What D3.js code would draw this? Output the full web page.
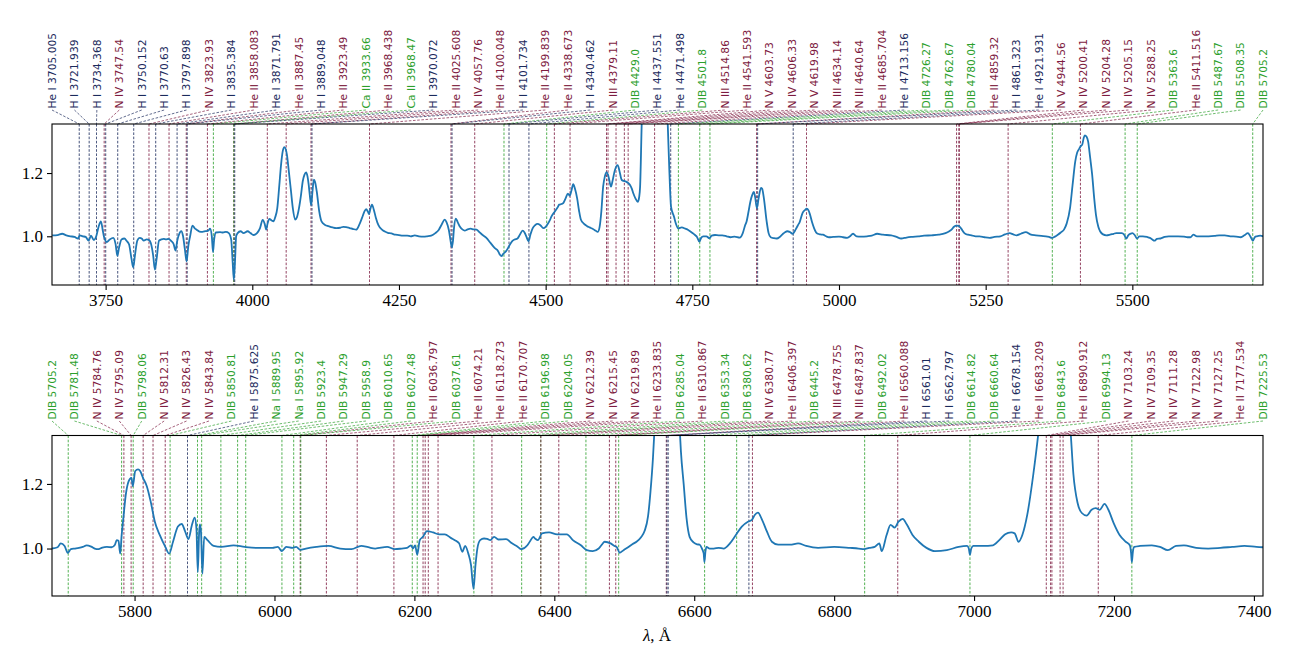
<!DOCTYPE html>
<html><head><meta charset="utf-8">
<script src="https://cdn.jsdelivr.net/npm/d3@7"></script>
<style>body{margin:0;background:#fff}svg{display:block}</style>
</head><body><svg id="c" width="1294" height="665"></svg>
<script>
// ---------- DATA ----------
const topIons = ["He I","H I","H I","N IV","H I","H I","H I","N IV","H I","He II","He I","He II","H I","He II","Ca II","He II","Ca II","H I","He II","N IV","He II","H I","He II","He II","H I","N III","DIB","He I","He I","DIB","N III","He II","N V","N IV","N V","N III","N III","He II","He I","DIB","DIB","DIB","He II","H I","He I","N V","N IV","N IV","N IV","N IV","DIB","He II","DIB","DIB","DIB"];
const topWaves = ["3705.005","3721.939","3734.368","3747.54","3750.152","3770.63","3797.898","3823.93","3835.384","3858.083","3871.791","3887.45","3889.048","3923.49","3933.66","3968.438","3968.47","3970.072","4025.608","4057.76","4100.048","4101.734","4199.839","4338.673","4340.462","4379.11","4429.0","4437.551","4471.498","4501.8","4514.86","4541.593","4603.73","4606.33","4619.98","4634.14","4640.64","4685.704","4713.156","4726.27","4762.67","4780.04","4859.32","4861.323","4921.931","4944.56","5200.41","5204.28","5205.15","5288.25","5363.6","5411.516","5487.67","5508.35","5705.2"];
const bottomIons = ["DIB","DIB","N IV","N IV","DIB","N IV","N IV","N IV","DIB","He I","Na I","Na I","DIB","DIB","DIB","DIB","DIB","He II","DIB","He II","He II","He II","DIB","DIB","N IV","N IV","N IV","He II","DIB","He II","DIB","DIB","N IV","He II","DIB","N III","N III","DIB","He II","H I","H I","DIB","DIB","He I","He II","DIB","He II","DIB","N IV","N IV","N IV","N IV","N IV","He II","DIB"];
const bottomWaves = ["5705.2","5781.48","5784.76","5795.09","5798.06","5812.31","5826.43","5843.84","5850.81","5875.625","5889.95","5895.92","5923.4","5947.29","5958.9","6010.65","6027.48","6036.797","6037.61","6074.21","6118.273","6170.707","6196.98","6204.05","6212.39","6215.45","6219.89","6233.835","6285.04","6310.867","6353.34","6380.62","6380.77","6406.397","6445.2","6478.755","6487.837","6492.02","6560.088","6561.01","6562.797","6614.82","6660.64","6678.154","6683.209","6843.6","6890.912","6994.13","7103.24","7109.35","7111.28","7122.98","7127.25","7177.534","7225.53"];

const topTicks = [3750,4000,4250,4500,4750,5000,5250,5500];
const bottomTicks = [5800,6000,6200,6400,6600,6800,7000,7200,7400];
const yTicks = [1.0,1.2];

const topSpectrum = [[3659,1.003],[3668,1.004],[3676,1.008],[3683,1.003],[3690,1.0],[3697,0.998],[3703,0.993],[3706,1.003],[3711,1.0],[3716,0.998],[3721,0.986],[3725,1.002],[3730,0.988],[3734,1.0],[3738,1.03],[3742,1.047],[3745,1.02],[3747,1.0],[3752,0.982],[3757,0.99],[3763,0.995],[3767,0.975],[3770,0.938],[3773,0.965],[3777,0.99],[3782,0.993],[3786,0.985],[3790,0.974],[3794,0.93],[3797,0.902],[3800,0.94],[3804,0.986],[3808,0.995],[3812,0.992],[3815,0.986],[3820,0.99],[3824,0.988],[3827,0.979],[3831,0.94],[3834,0.895],[3837,0.93],[3841,0.986],[3845,0.99],[3849,0.992],[3853,0.99],[3857,0.992],[3862,0.985],[3866,0.975],[3869,0.955],[3872,0.985],[3876,1.01],[3879,1.016],[3882,1.0],[3885,0.96],[3888,0.921],[3891,0.97],[3894,1.0],[3898,1.034],[3902,1.025],[3905,1.021],[3910,1.015],[3915,1.014],[3920,1.016],[3925,1.018],[3928,1.024],[3931,1.0],[3933,0.95],[3935,0.99],[3938,1.012],[3945,1.013],[3950,1.012],[3955,1.014],[3960,1.01],[3964,0.99],[3966.5,0.92],[3968.5,0.863],[3970.5,0.92],[3972.5,1.0],[3975,1.01],[3980,1.016],[3985,1.01],[3992,1.016],[3997,1.01],[4002,1.004],[4008,1.01],[4013,1.025],[4017.7,1.052],[4021,1.04],[4023.7,1.021],[4026,1.04],[4029,1.055],[4033,1.05],[4036,1.047],[4039,1.06],[4042.6,1.089],[4046,1.16],[4049,1.226],[4052,1.27],[4054.7,1.282],[4057,1.275],[4059,1.258],[4062,1.21],[4066,1.142],[4069,1.09],[4073,1.053],[4076,1.06],[4079.6,1.089],[4083,1.13],[4086,1.174],[4089,1.195],[4091.7,1.202],[4094,1.19],[4096,1.165],[4098,1.13],[4100.4,1.098],[4102.5,1.14],[4105,1.179],[4107,1.172],[4110,1.14],[4114,1.08],[4118,1.047],[4124,1.036],[4130,1.032],[4137,1.028],[4143,1.026],[4150,1.027],[4155,1.03],[4160,1.029],[4166,1.026],[4172,1.023],[4177,1.021],[4182,1.035],[4187,1.058],[4191,1.078],[4194,1.086],[4197,1.078],[4199,1.07],[4201,1.085],[4204,1.10],[4207,1.085],[4210.7,1.058],[4215,1.035],[4221,1.021],[4226,1.015],[4231,1.011],[4237,1.009],[4244,1.005],[4250,1.004],[4256,1.002],[4264,1.002],[4270,1.0],[4277,1.003],[4284,1.0],[4292,0.999],[4298,1.0],[4305,1.002],[4312,1.01],[4318,1.021],[4323,1.038],[4328,1.053],[4331,1.045],[4335,1.02],[4338,0.985],[4340,0.965],[4342,0.985],[4344,1.03],[4347,1.056],[4350,1.045],[4354,1.03],[4358,1.022],[4362,1.018],[4367,1.022],[4372,1.024],[4377,1.022],[4382,1.021],[4387,1.013],[4392,1.005],[4399,0.995],[4406,0.979],[4413,0.963],[4419,0.953],[4422,0.942],[4424.6,0.937],[4428,0.945],[4432.6,0.953],[4438,0.97],[4442.7,0.984],[4447,0.99],[4452,0.993],[4456,1.005],[4460.8,1.018],[4464,1.012],[4467,1.0],[4470.8,0.984],[4474,1.005],[4478,1.026],[4482,1.035],[4486,1.039],[4491,1.035],[4496,1.026],[4500,1.03],[4503,1.037],[4507,1.05],[4510,1.063],[4516,1.079],[4520,1.09],[4523,1.10],[4527,1.102],[4530,1.105],[4534,1.12],[4538,1.135],[4541,1.128],[4544,1.145],[4547,1.165],[4550,1.15],[4553.7,1.12],[4557,1.08],[4560,1.053],[4565,1.04],[4570.6,1.032],[4575,1.028],[4580.6,1.023],[4585,1.018],[4588.7,1.014],[4592,1.03],[4595,1.08],[4598,1.157],[4601,1.19],[4604,1.203],[4607,1.19],[4611.4,1.157],[4614,1.175],[4618,1.209],[4622.8,1.225],[4626,1.205],[4629.7,1.178],[4633,1.175],[4637,1.173],[4641,1.168],[4643.8,1.162],[4647,1.15],[4649.4,1.136],[4653,1.12],[4657,1.109],[4659.5,1.125],[4661,1.157],[4663.8,1.36],[4668,1.55],[4675,1.8],[4686,1.92],[4696,1.8],[4703,1.55],[4708,1.36],[4710.8,1.21],[4713.7,1.094],[4718.8,1.062],[4722,1.04],[4726,1.025],[4732,1.028],[4738,1.024],[4743,1.02],[4749,1.012],[4754.6,1.004],[4758,0.998],[4762,0.983],[4765,0.995],[4768.7,1.0],[4774,1.0],[4779,0.994],[4783,1.002],[4788.7,1.004],[4795,1.003],[4801,1.003],[4808.6,1.0],[4815,0.997],[4822,0.999],[4831,0.996],[4836,1.01],[4840,1.035],[4842.5,1.047],[4846,1.08],[4849,1.11],[4852,1.13],[4854.8,1.14],[4857,1.125],[4860,1.089],[4863,1.12],[4867,1.153],[4869,1.15],[4872,1.12],[4876.7,1.047],[4880,1.01],[4883.6,0.997],[4889,0.994],[4894,0.993],[4899,0.998],[4904,1.007],[4908,1.013],[4912,1.016],[4916,1.014],[4921,1.008],[4926,1.021],[4930,1.035],[4933,1.045],[4938,1.074],[4942,1.083],[4945,1.087],[4948,1.082],[4950.7,1.068],[4954,1.045],[4957.5,1.026],[4961,1.012],[4964,1.008],[4968,1.006],[4972.6,1.005],[4978,1.0],[4983,0.997],[4990,0.998],[5000,0.999],[5007,0.997],[5013.7,0.995],[5018,0.999],[5024,1.008],[5030,1.0],[5037,0.999],[5048,1.0],[5056,1.002],[5065,1.008],[5075,1.005],[5089,1.003],[5098,0.998],[5106,0.993],[5115,0.996],[5123,0.998],[5135,1.0],[5145,1.002],[5157.5,1.003],[5170,1.005],[5181.5,1.01],[5188,1.016],[5191.8,1.021],[5196,1.03],[5200,1.034],[5204,1.033],[5208,1.025],[5213.7,1.01],[5220,1.005],[5226,1.003],[5233,1.0],[5239.7,1.0],[5248,0.997],[5256.8,0.995],[5265,0.998],[5275,1.0],[5283,1.006],[5291,1.01],[5297,1.006],[5302.7,1.003],[5310,1.008],[5318.5,1.013],[5326,1.006],[5335.6,1.003],[5345,1.001],[5352.7,1.0],[5358,0.998],[5363,0.995],[5368,0.999],[5373,1.005],[5378,1.012],[5383.5,1.021],[5388,1.04],[5393.8,1.089],[5398,1.16],[5402.7,1.237],[5406,1.265],[5409.6,1.277],[5412,1.285],[5414.4,1.289],[5417,1.31],[5419,1.319],[5422,1.315],[5424.6,1.30],[5428,1.25],[5431.5,1.195],[5435,1.12],[5438,1.068],[5442,1.03],[5445,1.016],[5450,1.006],[5455.5,1.003],[5462,1.005],[5468,1.008],[5472.6,1.01],[5478,1.01],[5482,1.01],[5486,1.005],[5489.7,0.993],[5493,1.003],[5497,1.008],[5500,1.01],[5504,1.004],[5508,0.993],[5512,1.0],[5518,1.0],[5525,0.998],[5530,0.995],[5534,0.99],[5537.6,0.986],[5542,0.992],[5548,0.993],[5555,0.998],[5562,1.0],[5568.5,1.0],[5578,1.0],[5588,0.999],[5594,0.997],[5599,0.997],[5604,1.005],[5610,1.0],[5618,1.0],[5630,1.0],[5640,1.001],[5648,1.003],[5657.5,1.003],[5667,1.0],[5677,0.999],[5685,0.997],[5691,1.003],[5697,1.01],[5701,1.0],[5705.4,0.986],[5709,0.998],[5712,1.0],[5718,1.002],[5723,1.0]];

const bottomSpectrum = [[5681.5,1.0],[5690,1.004],[5694.5,1.016],[5700,1.008],[5704.5,0.987],[5709,0.998],[5715,1.0],[5720.5,1.002],[5726,1.005],[5731.5,1.01],[5738,1.006],[5743,1.0],[5748.5,0.998],[5754,1.003],[5760.5,1.005],[5767,1.004],[5772,1.012],[5774.5,1.026],[5777,1.024],[5779.5,0.984],[5781.5,1.04],[5784,1.094],[5787.5,1.167],[5791.5,1.208],[5795.5,1.219],[5797.5,1.193],[5801,1.24],[5805,1.245],[5808,1.24],[5812,1.219],[5817.5,1.193],[5823,1.146],[5829,1.083],[5836,1.042],[5844,1.005],[5849.5,0.984],[5855,1.021],[5862,1.068],[5867.5,1.076],[5872,1.055],[5877,1.029],[5882,1.073],[5886,1.096],[5888.5,1.06],[5890.4,0.927],[5892.3,1.05],[5893.5,1.075],[5895,1.05],[5897,0.922],[5899.5,1.036],[5904.6,1.025],[5913,1.008],[5924,1.005],[5941.5,1.01],[5957.5,1.005],[5974.6,1.002],[5990,1.002],[5997,1.002],[6005,1.005],[6010.4,0.992],[6017,1.005],[6025.7,1.002],[6031,1.005],[6037,0.996],[6045,1.0],[6060,1.005],[6077,1.008],[6094,1.0],[6110,0.998],[6124,1.008],[6134,1.004],[6144,1.0],[6161,1.005],[6172,0.998],[6182,1.0],[6189.5,1.002],[6195,1.01],[6198,1.0],[6201,1.01],[6204,0.981],[6207.7,1.026],[6212,1.036],[6218,1.054],[6226.5,1.05],[6235,1.044],[6243.5,1.044],[6252,1.033],[6260,1.023],[6264,1.016],[6268.5,0.99],[6272.5,1.008],[6277,0.985],[6281,0.948],[6284.5,0.875],[6287.3,0.948],[6290,1.0],[6294,1.026],[6299.5,1.031],[6304,1.03],[6308.5,1.026],[6314,1.036],[6320,1.028],[6331,1.029],[6339.5,1.016],[6348,1.005],[6352.5,0.998],[6361.5,1.01],[6366,1.025],[6370,1.036],[6373,1.03],[6376.5,1.026],[6382.5,1.047],[6392.5,1.05],[6404,1.044],[6418,1.044],[6426.5,1.026],[6438,1.01],[6446.5,0.995],[6455,0.992],[6463.5,1.0],[6468,1.012],[6472,1.021],[6480.5,1.016],[6486,1.008],[6489,1.005],[6493.5,0.987],[6499,0.995],[6506,1.005],[6512,1.014],[6517.5,1.021],[6524,1.035],[6529,1.054],[6534,1.1],[6537.5,1.177],[6541,1.28],[6543,1.36],[6548,1.6],[6555,1.85],[6562,1.95],[6569,1.8],[6575,1.5],[6579.5,1.36],[6581,1.30],[6585,1.198],[6589,1.094],[6593.4,1.036],[6599,1.019],[6604,1.013],[6607.7,1.012],[6611,1.0],[6613.5,0.985],[6614.6,0.958],[6616,0.99],[6617.5,1.005],[6622,1.0],[6628,1.0],[6635,1.002],[6642,1.0],[6651,1.016],[6659.5,1.042],[6668,1.068],[6676.7,1.083],[6682.5,1.089],[6686.5,1.104],[6691,1.111],[6697,1.089],[6704,1.052],[6711,1.021],[6720,1.012],[6737,1.012],[6748.5,1.016],[6760,1.008],[6777,1.002],[6800,1.005],[6823,1.002],[6835,1.0],[6843,0.998],[6850,1.002],[6858,1.005],[6864.6,1.016],[6868,0.992],[6875,1.042],[6880.7,1.073],[6886.5,1.065],[6892,1.083],[6898,1.092],[6903.7,1.075],[6912,1.042],[6921,1.021],[6932,1.002],[6944,0.992],[6961,0.995],[6978,1.005],[6990,1.008],[6992.5,1.0],[6994,0.981],[6996,1.0],[6999,1.008],[7013,1.008],[7027,1.01],[7036,1.026],[7044.5,1.044],[7053,1.05],[7058,1.047],[7063.5,1.021],[7069,1.042],[7076,1.104],[7084.7,1.23],[7092,1.36],[7100,1.55],[7113,1.65],[7126,1.55],[7138,1.36],[7142,1.23],[7148,1.141],[7154,1.11],[7161,1.102],[7168,1.12],[7174,1.125],[7179.6,1.12],[7186.5,1.138],[7192,1.12],[7199.7,1.078],[7208,1.042],[7216.8,1.021],[7222.6,1.01],[7224.5,0.985],[7225.5,0.958],[7227,0.99],[7229,1.005],[7237,1.008],[7254,1.01],[7265.7,1.005],[7277,0.995],[7288.7,1.008],[7300,1.01],[7317.5,1.002],[7334.7,1.0],[7352,1.002],[7369,1.005],[7386.5,1.008],[7403.7,1.005],[7413,1.004]];

// ---------- DRAW ----------
const NAVY = "#1b2a5c", MAROON = "#7d1a40", GREEN = "#2ca02c";
function ionColor(ion){
  if (ion === "H I" || ion === "He I") return NAVY;
  if (ion === "DIB" || ion === "Ca II" || ion === "Na I") return GREEN;
  return MAROON;
}
const svg = d3.select("#c");
const X0 = 52, X1 = 1263;

function panel(cfg){
  const x = d3.scaleLinear().domain(cfg.xDomain).range([X0, X1]);
  const y = d3.scaleLinear().domain(cfg.yDomain).range([cfg.bottom, cfg.top]);
  const g = svg.append("g");
  const clipId = "clip" + cfg.id;
  svg.append("clipPath").attr("id", clipId).append("rect")
    .attr("x", X0).attr("y", cfg.top).attr("width", X1 - X0).attr("height", cfg.bottom - cfg.top);

  const lines = cfg.ions.map((ion, i) => ({ion, wl: cfg.waves[i], w: +cfg.waves[i], i}));
  const n = lines.length;
  const lx = i => X0 + i * (X1 - X0) / (n - 1);

  // vertical dashed marker lines
  g.append("g").selectAll("line").data(lines.filter(d => d.w >= cfg.xDomain[0] && d.w <= cfg.xDomain[1]))
    .join("line")
    .attr("x1", d => x(d.w)).attr("x2", d => x(d.w))
    .attr("y1", cfg.top).attr("y2", cfg.bottom)
    .attr("stroke", d => ionColor(d.ion)).attr("stroke-width", 0.9)
    .attr("stroke-dasharray", "2.6,1.6").attr("opacity", 0.9);

  // connectors
  g.append("g").selectAll("line").data(lines).join("line")
    .attr("x1", d => lx(d.i)).attr("y1", cfg.labelY + 1.5)
    .attr("x2", d => x(d.w)).attr("y2", cfg.top)
    .attr("stroke", d => ionColor(d.ion)).attr("stroke-width", 0.8)
    .attr("stroke-dasharray", "2.6,1.6").attr("opacity", 0.85);

  // labels
  g.append("g").selectAll("text").data(lines).join("text")
    .attr("transform", d => `translate(${lx(d.i)},${cfg.labelY}) rotate(-90)`)
    .attr("dy", "0.36em")
    .attr("text-anchor", "start")
    .attr("font-family", "DejaVu Sans, sans-serif")
    .attr("font-size", "10.7px")
    .attr("fill", d => ionColor(d.ion))
    .text(d => `${d.ion} ${d.wl}`);

  // spectrum
  const line = d3.line().x(d => x(d[0])).y(d => y(d[1])).curve(d3.curveMonotoneX);
  g.append("path").datum(cfg.spectrum)
    .attr("clip-path", `url(#${clipId})`)
    .attr("d", line).attr("fill", "none")
    .attr("stroke", "#1f77b4").attr("stroke-width", 1.8)
    .attr("stroke-linejoin", "round");

  // frame
  g.append("rect").attr("x", X0).attr("y", cfg.top)
    .attr("width", X1 - X0).attr("height", cfg.bottom - cfg.top)
    .attr("fill", "none").attr("stroke", "#000").attr("stroke-width", 1.1);

  // axes
  const xa = g.append("g").attr("transform", `translate(0,${cfg.bottom})`)
    .call(d3.axisBottom(x).tickValues(cfg.ticks).tickSize(5).tickPadding(4).tickFormat(d3.format("d")));
  const ya = g.append("g").attr("transform", `translate(${X0},0)`)
    .call(d3.axisLeft(y).tickValues(yTicks).tickSize(5).tickPadding(4).tickFormat(d3.format(".1f")));
  [xa, ya].forEach(a => {
    a.select(".domain").remove();
    a.selectAll("line").attr("stroke", "#000").attr("stroke-width", 1.1);
    a.selectAll("text").attr("font-family", "Liberation Serif, serif").attr("font-size", "17px").attr("fill", "#000");
  });
}

panel({id: "t", xDomain: [3658.6, 5722.7], yDomain: [0.846, 1.355], top: 124, bottom: 285,
  ions: topIons, waves: topWaves, spectrum: topSpectrum, ticks: topTicks, labelY: 108.5});
panel({id: "b", xDomain: [5682, 7413], yDomain: [0.853, 1.350], top: 435.5, bottom: 596,
  ions: bottomIons, waves: bottomWaves, spectrum: bottomSpectrum, ticks: bottomTicks, labelY: 419.5});

svg.append("text").attr("x", 657).attr("y", 641).attr("text-anchor", "middle")
  .attr("font-family", "Liberation Serif, serif").attr("font-size", "17px")
  .html('<tspan font-style="italic">λ</tspan>, Å');
</script>
</body></html>
